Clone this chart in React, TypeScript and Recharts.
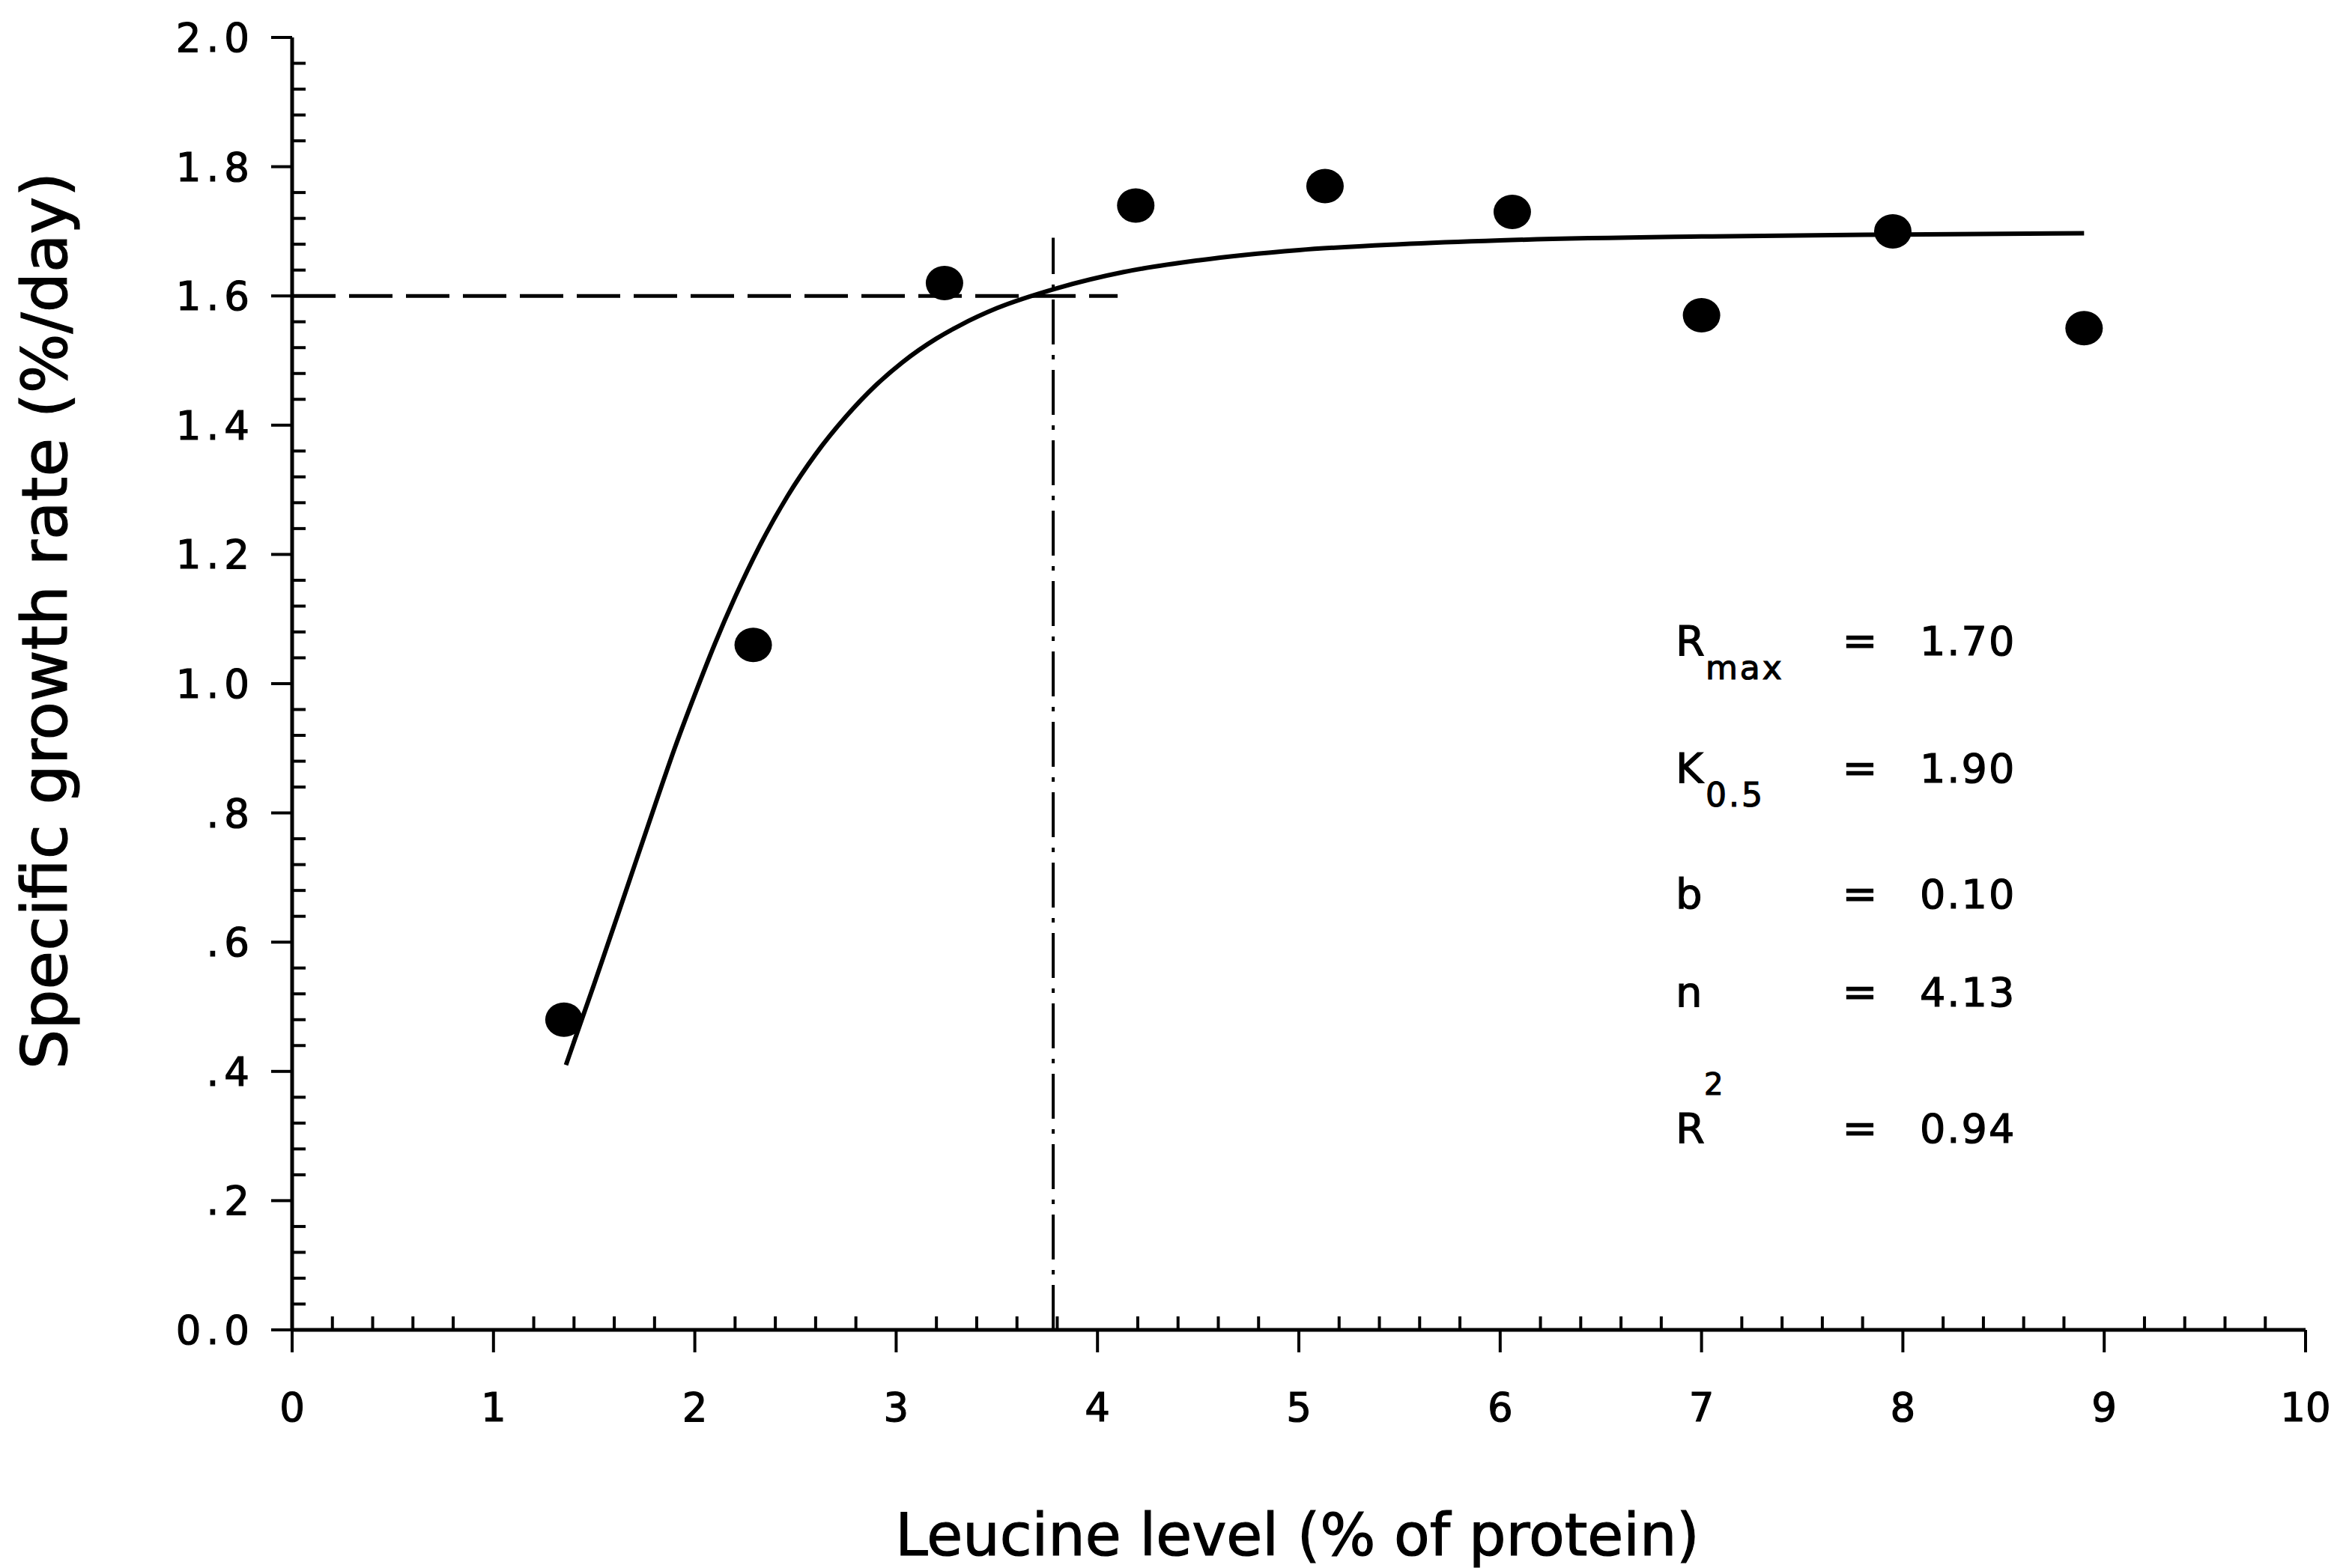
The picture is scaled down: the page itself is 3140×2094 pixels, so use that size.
import { ComposedChart, Line, Scatter, XAxis, YAxis, ReferenceLine } from 'recharts';

// fitted curve
const fitX = [1.36, 1.5, 1.65, 1.8, 1.9, 2.0, 2.1, 2.2, 2.32, 2.46, 2.6, 2.75, 2.9, 3.03, 3.2, 3.32, 3.5, 3.8, 4.13, 4.5, 5.0, 5.5, 6.0, 7.0, 8.0, 8.9];
const fitY = [0.41, 0.535, 0.672, 0.81, 0.9, 0.983, 1.062, 1.134, 1.212, 1.29, 1.355, 1.413, 1.462, 1.497, 1.534, 1.555, 1.581, 1.612, 1.637, 1.655, 1.671, 1.68, 1.686, 1.692, 1.695, 1.697];

// observed growth rates
const obsX = [1.35, 2.29, 3.24, 4.19, 5.13, 6.06, 7.0, 7.95, 8.9];
const obsY = [0.48, 1.06, 1.62, 1.74, 1.77, 1.73, 1.57, 1.7, 1.55];

const xMajor = [0, 1, 2, 3, 4, 5, 6, 7, 8, 9, 10];
const xLabels = ['0', '1', '2', '3', '4', '5', '6', '7', '8', '9', '10'];
const yMajor = [0, 0.2, 0.4, 0.6, 0.8, 1.0, 1.2, 1.4, 1.6, 1.8, 2.0];
const yLabels = ['0.0', '.2', '.4', '.6', '.8', '1.0', '1.2', '1.4', '1.6', '1.8', '2.0'];

// requirement estimate (broken-line markers)
const reqX = 3.78;
const reqY = 1.6;
const hLineEndX = 4.1;
const vLineTopY = 1.69;

const paramNames = ['R', 'K', 'b', 'n', 'R'];
const paramSubs = ['max', '0.5', '', '', ''];
const paramSups = ['', '', '', '', '2'];
const paramValues = ['1.70', '1.90', '0.10', '4.13', '0.94'];

const fitData = fitX.map((x, i) => ({ x, y: fitY[i] }));
const obsData = obsX.map((x, i) => ({ x, y: obsY[i] }));

// four minor ticks between each pair of major ticks
const withMinor = (major: number[]) => {
  const out: number[] = [];
  for (let i = 0; i < major.length - 1; i++) {
    const step = (major[i + 1] - major[i]) / 5;
    for (let k = 0; k < 5; k++) out.push(+(major[i] + k * step).toFixed(4));
  }
  out.push(major[major.length - 1]);
  return out;
};
const xTicks = withMinor(xMajor);
const yTicks = withMinor(yMajor);

const FONT = '"DejaVu Sans", "Liberation Sans", Arial, sans-serif';
// scanned print looks heavier than a plain regular face
const INK = { stroke: '#000', strokeWidth: 1.2 };

const XTick = ({ x, y, payload }: any) => {
  const idx = xMajor.findIndex((m) => Math.abs(m - payload.value) < 1e-6);
  if (idx < 0) {
    return <line x1={x} y1={y} x2={x} y2={y - 18} stroke="#000" strokeWidth={4} />;
  }
  return (
    <g>
      <line x1={x} y1={y} x2={x} y2={y + 30} stroke="#000" strokeWidth={4} />
      <text x={x} y={y + 122} textAnchor="middle" fontSize={53} fontFamily={FONT} fill="#000" {...INK}>
        {xLabels[idx]}
      </text>
    </g>
  );
};

const YTick = ({ x, y, payload }: any) => {
  const idx = yMajor.findIndex((m) => Math.abs(m - payload.value) < 1e-6);
  if (idx < 0) {
    return <line x1={x} y1={y} x2={x + 18} y2={y} stroke="#000" strokeWidth={4} />;
  }
  return (
    <g>
      <line x1={x - 28} y1={y} x2={x} y2={y} stroke="#000" strokeWidth={4} />
      <text
        x={x - 50}
        y={y + 19}
        textAnchor="end"
        fontSize={53}
        letterSpacing={7}
        fontFamily={FONT}
        fill="#000"
        {...INK}
      >
        {yLabels[idx]}
      </text>
    </g>
  );
};

const Dot = (props: any) => <ellipse cx={props.cx} cy={props.cy} rx={25} ry={23} fill="#000" />;

const rowBaselines = [875, 1045, 1213, 1344, 1526];

export default function App() {
  return (
    <div style={{ position: 'absolute', left: 0, top: 0, width: 3140, height: 2094, background: '#fff' }}>
      <ComposedChart
        width={3140}
        height={2094}
        margin={{ top: 50, right: 62, left: 389, bottom: 317 }}
      >
        <XAxis
          type="number"
          dataKey="x"
          domain={[0, 10]}
          ticks={xTicks}
          interval={0}
          height={1}
          tickSize={0}
          tickMargin={0}
          tickLine={false}
          tick={<XTick />}
          axisLine={{ stroke: '#000', strokeWidth: 5 }}
          allowDataOverflow
        />
        <YAxis
          type="number"
          dataKey="y"
          domain={[0, 2]}
          ticks={yTicks}
          interval={0}
          width={1}
          tickSize={0}
          tickMargin={0}
          tickLine={false}
          tick={<YTick />}
          axisLine={{ stroke: '#000', strokeWidth: 5 }}
          allowDataOverflow
        />
        <ReferenceLine
          segment={[{ x: 0, y: reqY }, { x: hLineEndX, y: reqY }]}
          stroke="#000"
          strokeWidth={5}
          strokeDasharray="58 18"
          ifOverflow="visible"
        />
        <ReferenceLine
          segment={[{ x: reqX, y: 0 }, { x: reqX, y: vLineTopY }]}
          stroke="#000"
          strokeWidth={4}
          strokeDasharray="60 14 6 14"
          ifOverflow="visible"
        />
        <Line
          data={fitData}
          dataKey="y"
          type="monotone"
          stroke="#000"
          strokeWidth={6}
          dot={false}
          activeDot={false}
          isAnimationActive={false}
        />
        <Scatter data={obsData} dataKey="y" shape={<Dot />} isAnimationActive={false} />
      </ComposedChart>

      <svg
        width={3140}
        height={2094}
        style={{ position: 'absolute', left: 0, top: 0, pointerEvents: 'none' }}
        fontFamily={FONT}
        fill="#000"
        stroke="#000"
        strokeWidth={1.2}
      >
        <text x={1732} y={2077} textAnchor="middle" fontSize={78}>
          Leucine level (% of protein)
        </text>
        <text
          x={60}
          y={829}
          textAnchor="middle"
          dominantBaseline="central"
          fontSize={84}
          transform="rotate(-90 60 829)"
        >
          Specific growth rate (%/day)
        </text>
        {paramNames.map((name, i) => (
          <g key={i}>
            <text x={2237} y={rowBaselines[i]} fontSize={56}>
              {name}
            </text>
            {paramSubs[i] && (
              <text x={2277} y={rowBaselines[i] + 32} fontSize={44} letterSpacing={3}>
                {paramSubs[i]}
              </text>
            )}
            {paramSups[i] && (
              <text x={2275} y={rowBaselines[i] - 64} fontSize={40}>
                {paramSups[i]}
              </text>
            )}
            <text x={2483} y={rowBaselines[i]} textAnchor="middle" fontSize={56}>
              =
            </text>
            <text x={2563} y={rowBaselines[i]} fontSize={54} letterSpacing={2}>
              {paramValues[i]}
            </text>
          </g>
        ))}
      </svg>
    </div>
  );
}
